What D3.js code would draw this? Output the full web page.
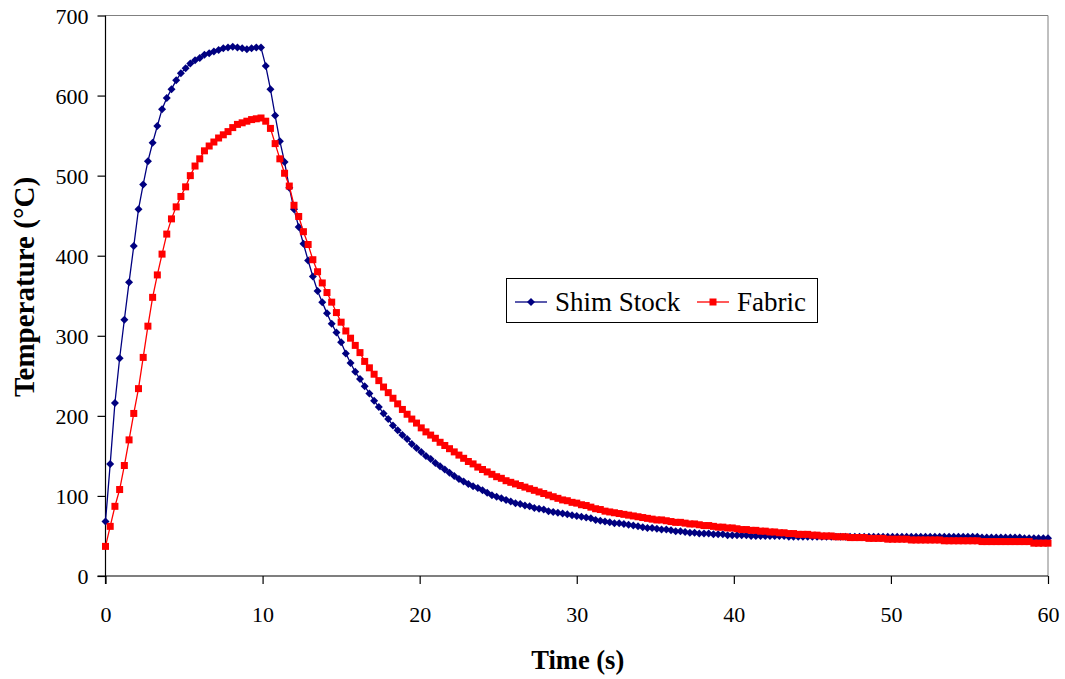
<!DOCTYPE html>
<html>
<head>
<meta charset="utf-8">
<script src="https://cdn.jsdelivr.net/npm/d3@7"></script>
<style>
  html, body { margin: 0; padding: 0; background: #ffffff; }
  svg { display: block; }
  svg text { font-family: "Liberation Serif", "Times New Roman", serif; }
</style>
</head>
<body>
<svg id="chart" width="1065" height="679"></svg>
<script>
// ---- data ----
const seriesNames = ["Shim Stock", "Fabric"];

const time = [
  0,0.3,0.6,0.9,1.2,1.5,1.8,2.1,2.4,2.7,
  3,3.3,3.6,3.9,4.2,4.5,4.8,5.1,5.4,5.7,
  6,6.3,6.6,6.9,7.2,7.5,7.8,8.1,8.4,8.7,
  9,9.3,9.6,9.9,10.2,10.5,10.8,11.1,11.4,11.7,
  12,12.3,12.6,12.9,13.2,13.5,13.8,14.1,14.4,14.7,
  15,15.3,15.6,15.9,16.2,16.5,16.8,17.1,17.4,17.7,
  18,18.3,18.6,18.9,19.2,19.5,19.8,20.1,20.4,20.7,
  21,21.3,21.6,21.9,22.2,22.5,22.8,23.1,23.4,23.7,
  24,24.3,24.6,24.9,25.2,25.5,25.8,26.1,26.4,26.7,
  27,27.3,27.6,27.9,28.2,28.5,28.8,29.1,29.4,29.7,
  30,30.3,30.6,30.9,31.2,31.5,31.8,32.1,32.4,32.7,
  33,33.3,33.6,33.9,34.2,34.5,34.8,35.1,35.4,35.7,
  36,36.3,36.6,36.9,37.2,37.5,37.8,38.1,38.4,38.7,
  39,39.3,39.6,39.9,40.2,40.5,40.8,41.1,41.4,41.7,
  42,42.3,42.6,42.9,43.2,43.5,43.8,44.1,44.4,44.7,
  45,45.3,45.6,45.9,46.2,46.5,46.8,47.1,47.4,47.7,
  48,48.3,48.6,48.9,49.2,49.5,49.8,50.1,50.4,50.7,
  51,51.3,51.6,51.9,52.2,52.5,52.8,53.1,53.4,53.7,
  54,54.3,54.6,54.9,55.2,55.5,55.8,56.1,56.4,56.7,
  57,57.3,57.6,57.9,58.2,58.5,58.8,59.1,59.4,59.7,
  60
];

const shimStock = [
  68,140,216,272,320,367,412,458,489,518,
  541,562,583,597,608,619,628,634,640,644,
  647,651,653,655,657,659,660,661,660,659,
  658,659,660,660,637,608,575,543,517,485,
  458,436,415,394,374,356,342,328,315,304,
  292,278,266,255,246,237,228,219,211,203,
  196,188,182,176,171,165,160,155,150,146,
  141,137,133,129,125,121,118,115,112,110,
  107,104,101,99,97,95,93,91,90,88,
  87,85,84,83,81,80,79,78,77,76,
  75,74,73,72,70,69,68,67,66,66,
  65,64,63,62,61,60,60,59,58,58,
  57,56,56,55,54,54,53,53,53,52,
  52,52,51,51,51,51,51,50,50,50,
  50,50,50,50,50,49,49,49,49,49,
  49,49,49,49,49,49,49,49,49,49,
  49,49,49,49,49,49,49,49,49,49,
  49,49,49,49,49,49,49,49,49,49,
  49,49,49,49,49,49,48,48,48,48,
  48,48,48,48,48,47,47,47,47,47,
  47
];

const fabric = [
  37,62,87,108,138,170,203,234,273,312,
  348,376,402,427,446,461,474,486,500,512,
  521,531,537,542,547,551,555,560,564,566,
  568,570,571,572,568,559,540,521,503,487,
  463,449,430,414,395,380,366,354,342,329,
  317,306,297,288,279,268,260,252,244,236,
  229,222,215,208,202,196,191,185,180,176,
  172,167,163,159,155,151,147,143,140,136,
  133,130,127,124,122,119,117,115,113,111,
  109,107,105,103,101,99,97,95,94,92,
  91,89,88,86,84,83,81,80,79,78,
  77,76,75,74,73,72,71,70,70,69,
  68,67,67,66,65,65,64,63,63,62,
  61,61,60,60,59,58,58,57,57,56,
  56,55,55,54,54,53,53,52,52,52,
  51,51,50,50,50,49,49,49,48,48,
  48,48,47,47,47,47,46,46,46,46,
  46,45,45,45,45,45,45,45,44,44,
  44,44,44,44,44,44,43,43,43,43,
  43,43,43,43,43,43,43,41,41,41,
  41
];

const xTicks = [0, 10, 20, 30, 40, 50, 60];
const yTicks = [0, 100, 200, 300, 400, 500, 600, 700];
const xTitle = "Time (s)";
const yTitle = "Temperature (°C)";

// ---- drawing ----
const svg = d3.select("#chart");
const W = 1065, H = 679;
const L = 105.5, R = 1048, T = 15.5, B = 576;

svg.append("rect").attr("width", W).attr("height", H).attr("fill", "#ffffff");

const x = d3.scaleLinear().domain([0, 60]).range([L, R]);
const y = d3.scaleLinear().domain([0, 700]).range([B, T]);

const serif = "Liberation Serif, Times New Roman, serif";

// plot border (top and right)
svg.append("line").attr("x1", L).attr("x2", R).attr("y1", T).attr("y2", T)
  .attr("stroke", "#808080").attr("stroke-width", 1);
svg.append("line").attr("x1", R).attr("x2", R).attr("y1", T).attr("y2", B)
  .attr("stroke", "#808080").attr("stroke-width", 1);

// axes
const xAxis = d3.axisBottom(x).tickValues(xTicks).tickSize(8).tickSizeOuter(0).tickFormat(d3.format("d"));
const yAxis = d3.axisLeft(y).tickValues(yTicks).tickSize(8).tickSizeOuter(0).tickFormat(d3.format("d"));

const gx = svg.append("g").attr("transform", `translate(0,${B})`).call(xAxis);
const gy = svg.append("g").attr("transform", `translate(${L},0)`).call(yAxis);

[gx, gy].forEach(g => {
  g.attr("font-family", serif).attr("font-size", 22);
  g.select(".domain").attr("stroke", "#000").attr("stroke-width", 1.2);
  g.selectAll(".tick line").attr("stroke", "#000").attr("stroke-width", 1.2);
  g.selectAll(".tick text").attr("fill", "#000")
    .attr("font-family", serif).attr("font-size", 22);
});
gx.select(".domain").attr("d", `M${L - 8},0H${R}`);
gy.select(".domain").attr("d", `M0,${T}V${B + 8}`);
gx.selectAll(".tick text").attr("dy", "0").attr("y", 46);
gy.selectAll(".tick text").attr("x", -17).attr("dy", "0.36em");

// axis titles
svg.append("text").attr("x", (L + R) / 2 + 1).attr("y", 669)
  .attr("text-anchor", "middle")
  .attr("font-family", serif).attr("font-size", 26.5).attr("font-weight", "bold")
  .text(xTitle);
svg.append("text")
  .attr("transform", `translate(34,287) rotate(-90)`)
  .attr("text-anchor", "middle")
  .attr("font-family", serif).attr("font-size", 29).attr("font-weight", "bold")
  .text(yTitle);

// series
const dataBlue = time.map((t, i) => ({ t, v: shimStock[i] }));
const dataRed = time.map((t, i) => ({ t, v: fabric[i] }));

const line = d3.line().x(d => x(d.t)).y(d => y(d.v));

const diamond = "M0,-4L4,0L0,4L-4,0Z";
const BLUE = "#000080", RED = "#ff0000";

function drawSeries(data, color, kind) {
  svg.append("path").datum(data).attr("d", line)
    .attr("fill", "none").attr("stroke", color).attr("stroke-width", 1.3);
  const g = svg.append("g");
  if (kind === "diamond") {
    g.selectAll("path").data(data).join("path")
      .attr("d", diamond)
      .attr("transform", d => `translate(${x(d.t)},${y(d.v)})`)
      .attr("fill", color);
  } else {
    g.selectAll("rect").data(data).join("rect")
      .attr("x", d => x(d.t) - 3.5).attr("y", d => y(d.v) - 3.5)
      .attr("width", 7).attr("height", 7)
      .attr("fill", color);
  }
}
drawSeries(dataBlue, BLUE, "diamond");
drawSeries(dataRed, RED, "square");

// legend
const lg = svg.append("g");
lg.append("rect").attr("x", 506.5).attr("y", 278.5).attr("width", 311).attr("height", 44)
  .attr("fill", "#fff").attr("stroke", "#000").attr("stroke-width", 1);
const ly = 302;
lg.append("line").attr("x1", 515).attr("x2", 547).attr("y1", ly).attr("y2", ly)
  .attr("stroke", BLUE).attr("stroke-width", 1.3);
lg.append("path").attr("d", diamond).attr("transform", `translate(531,${ly})`).attr("fill", BLUE);
lg.append("text").attr("x", 555).attr("y", ly + 9)
  .attr("font-family", serif).attr("font-size", 27).text(seriesNames[0]);
lg.append("line").attr("x1", 697).attr("x2", 729).attr("y1", ly).attr("y2", ly)
  .attr("stroke", RED).attr("stroke-width", 1.3);
lg.append("rect").attr("x", 713 - 3.5).attr("y", ly - 3.5).attr("width", 7).attr("height", 7).attr("fill", RED);
lg.append("text").attr("x", 737).attr("y", ly + 9)
  .attr("font-family", serif).attr("font-size", 27).text(seriesNames[1]);
</script>
</body>
</html>
